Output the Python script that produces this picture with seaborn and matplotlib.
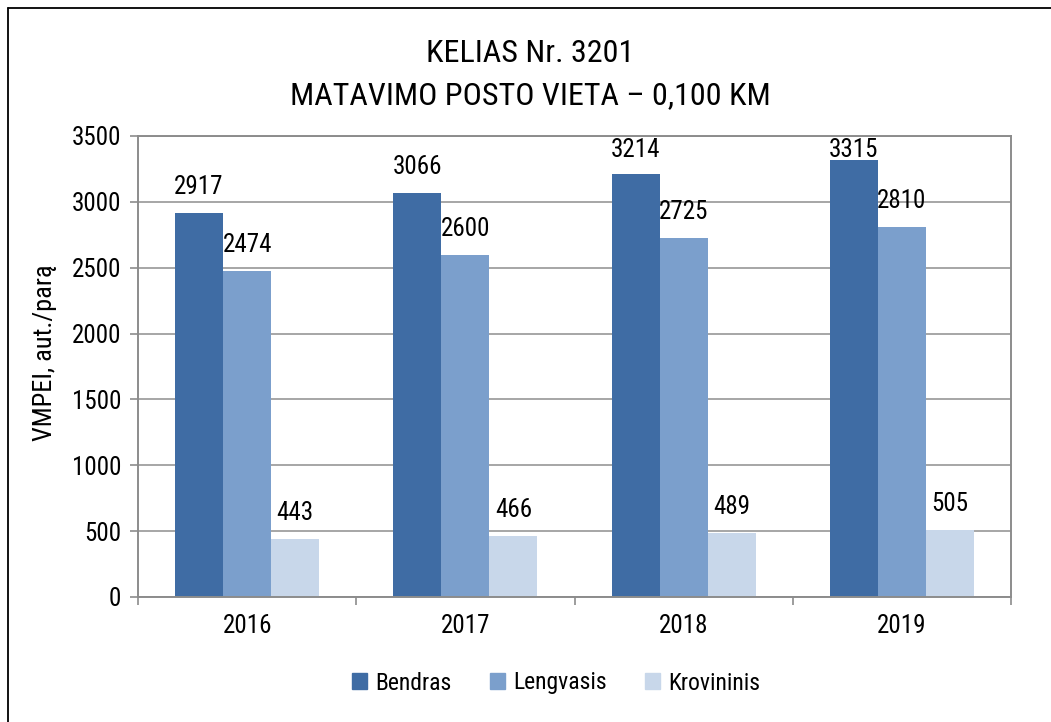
import pandas as pd
import matplotlib
matplotlib.use("Agg")
import matplotlib.pyplot as plt
from matplotlib.lines import Line2D
from matplotlib.ticker import FixedLocator
import seaborn as sns

# data
years = ["2016", "2017", "2018", "2019"]
series = ["Bendras", "Lengvasis", "Krovininis"]
bendras = [2917, 3066, 3214, 3315]
lengvasis = [2474, 2600, 2725, 2810]
krovininis = [443, 466, 489, 505]
colors = ["#3F6CA4", "#7B9FCC", "#C8D7EA"]

df = pd.DataFrame({
    "year": years * 3,
    "series": [s for s in series for _ in years],
    "value": bendras + lengvasis + krovininis,
})

sns.set_style("white")
plt.rcParams["font.family"] = ["Roboto Condensed", "Liberation Sans", "DejaVu Sans"]
plt.rcParams["text.color"] = "black"
plt.rcParams["xtick.color"] = "black"
plt.rcParams["ytick.color"] = "black"
plt.rcParams["axes.labelcolor"] = "black"

fig = plt.figure(figsize=(10.51, 7.22), dpi=100)
ax = fig.add_axes([138 / 1051, 1 - 597 / 722, 873 / 1051, 461 / 722])

sns.barplot(data=df, x="year", y="value", hue="series", palette=colors,
            width=0.66, saturation=1, gap=0, legend=False, linewidth=0, ax=ax)

ax.set_ylim(0, 3500)
ax.set_yticks(range(0, 3501, 500))
ax.set_xlim(-0.5, 3.5)
ax.grid(axis="y", color="#a6a6a6", linewidth=1.4)
ax.set_axisbelow(True)
for sp in ax.spines.values():
    sp.set_color("#8c8c8c")
    sp.set_linewidth(1.4)

ax.tick_params(axis="y", direction="out", length=6, width=1.2, color="#8c8c8c",
               labelcolor="black", labelsize=18, pad=6, left=True)
ax.tick_params(axis="x", which="major", length=0, labelsize=18, pad=12,
               labelcolor="black")
ax.xaxis.set_minor_locator(FixedLocator([-0.5, 0.5, 1.5, 2.5, 3.5]))
ax.tick_params(axis="x", which="minor", direction="out", length=6, width=1.2,
               color="#8c8c8c", bottom=True)
ax.set_xlabel("")
ax.set_ylabel("VMPEI, aut./parą", fontsize=19, color="black")
ax.yaxis.set_label_coords(-0.093, 0.531)

# data labels above bars, kept inside the plot area like Excel does
px = 3500 / 461
for cont in ax.containers:
    for bar in cont:
        v = bar.get_height()
        y = min(v + 26 * px, 3500 - 14 * px)
        ax.text(bar.get_x() + bar.get_width() / 2, y, f"{v:.0f}",
                ha="center", va="center", fontsize=18, color="black")

handles = [plt.Rectangle((0, 0), 1, 1, color=c) for c in colors]
fig.legend(handles, series, loc="center", bbox_to_anchor=(556 / 1051, 1 - 683 / 722),
           ncol=3, frameon=False, fontsize=17, handlelength=0.65, handleheight=0.65,
           handletextpad=0.35, columnspacing=1.6, labelcolor="black")

fig.text(530 / 1051, 1 - 53 / 722, "KELIAS Nr. 3201", ha="center", va="center",
         fontsize=23, color="black")
fig.text(530 / 1051, 1 - 96 / 722, "MATAVIMO POSTO VIETA – 0,100 KM",
         ha="center", va="center", fontsize=23, color="black")

# outer chart border (left and top visible)
fig.add_artist(Line2D([8 / 1051, 8 / 1051], [0, 1 - 8 / 722], color="black",
                      linewidth=1.3, transform=fig.transFigure))
fig.add_artist(Line2D([8 / 1051, 1], [1 - 8 / 722, 1 - 8 / 722], color="black",
                      linewidth=1.3, transform=fig.transFigure))

fig.savefig("out.png", dpi=100)
